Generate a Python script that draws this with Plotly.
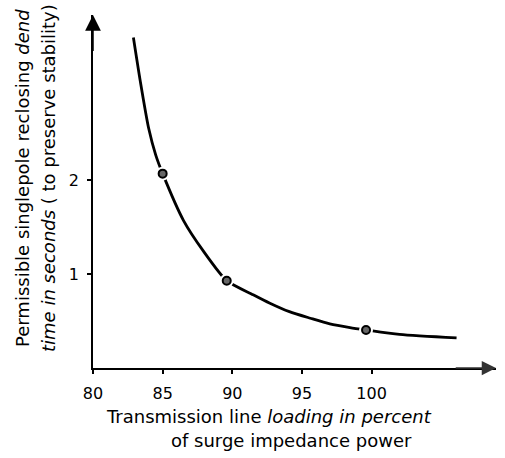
import plotly.graph_objects as go

# Curve (loading %, dead time s)
curve_x = [82.9, 83.4, 84.0, 84.5, 85.0, 86.5, 87.9, 89.6, 91.5, 92.7, 94.1, 95.6, 97.0, 98.45, 99.6, 102.0, 106.1]
curve_y = [3.52, 3.05, 2.55, 2.27, 2.07, 1.57, 1.25, 0.93, 0.78, 0.69, 0.60, 0.53, 0.47, 0.43, 0.405, 0.357, 0.32]

# Marked points
pts_x = [85.0, 89.6, 99.6]
pts_y = [2.07, 0.93, 0.405]

x_ticks = [80, 85, 90, 95, 100]
y_ticks = [1, 2]

FONT = "DejaVu Sans"

# plot-area geometry (pixels)
L, R, T, B = 93, 496, 15, 368
W, H = 505, 458


def px2x(px):
    return (px - L) / (R - L)


def py2y(py):
    return (B - py) / (B - T)


fig = go.Figure()
fig.add_trace(go.Scatter(x=curve_x, y=curve_y, mode="lines",
                         line=dict(color="black", width=2.8, shape="spline", smoothing=0.7),
                         hoverinfo="skip"))
fig.add_trace(go.Scatter(x=pts_x, y=pts_y, mode="markers",
                         marker=dict(size=14, color="white"), hoverinfo="skip"))
fig.add_trace(go.Scatter(x=pts_x, y=pts_y, mode="markers",
                         marker=dict(size=8, color="#666666", line=dict(color="black", width=2))))

xmax = 80 + (R - L) / 13.93
ymax = (B - T) / 93.9

axis_common = dict(showline=True, linecolor="black", linewidth=1.5, ticks="outside",
                   ticklen=4, tickwidth=1.5, tickcolor="black", showgrid=False,
                   zeroline=False, tickfont=dict(family=FONT, size=16, color="black"))

fig.update_layout(
    width=W, height=H,
    margin=dict(l=L, r=W - R, t=T, b=H - B, pad=0),
    paper_bgcolor="white", plot_bgcolor="white",
    showlegend=False,
    xaxis=dict(range=[80, xmax], tickvals=x_ticks, ticklabelstandoff=6, **axis_common),
    yaxis=dict(range=[0, ymax], tickvals=y_ticks, ticklabelstandoff=5, **axis_common),
)

# axis arrows
fig.add_annotation(x=80, y=ymax, ax=80, ay=ymax - 0.4, xref="x", yref="y", axref="x", ayref="y",
                   text="", showarrow=True, arrowhead=2, arrowsize=2.1, arrowwidth=1.5,
                   arrowcolor="black")
fig.add_annotation(x=xmax, y=0, ax=xmax - 3, ay=0, xref="x", yref="y", axref="x", ayref="y",
                   text="", showarrow=True, arrowhead=2, arrowsize=1.9, arrowwidth=1.5,
                   arrowcolor="#333333")

tfont = dict(family=FONT, size=18, color="black")
fig.add_annotation(x=px2x(104), y=py2y(417), xref="paper", yref="paper",
                   xanchor="left", yanchor="middle", showarrow=False, font=tfont,
                   text="Transmission line <i>loading in percent</i>")
fig.add_annotation(x=px2x(169), y=py2y(440), xref="paper", yref="paper",
                   xanchor="left", yanchor="middle", showarrow=False, font=tfont,
                   text="of surge impedance power")
fig.add_annotation(x=px2x(22), y=py2y(178), xref="paper", yref="paper",
                   xanchor="center", yanchor="middle", showarrow=False, font=tfont,
                   textangle=-90, text="Permissible singlepole reclosing <i>dend</i>")
fig.add_annotation(x=px2x(48), y=py2y(178), xref="paper", yref="paper",
                   xanchor="center", yanchor="middle", showarrow=False, font=tfont,
                   textangle=-90, text="<i>time in seconds</i> ( to preserve stability)")

fig.write_html("out.html")
